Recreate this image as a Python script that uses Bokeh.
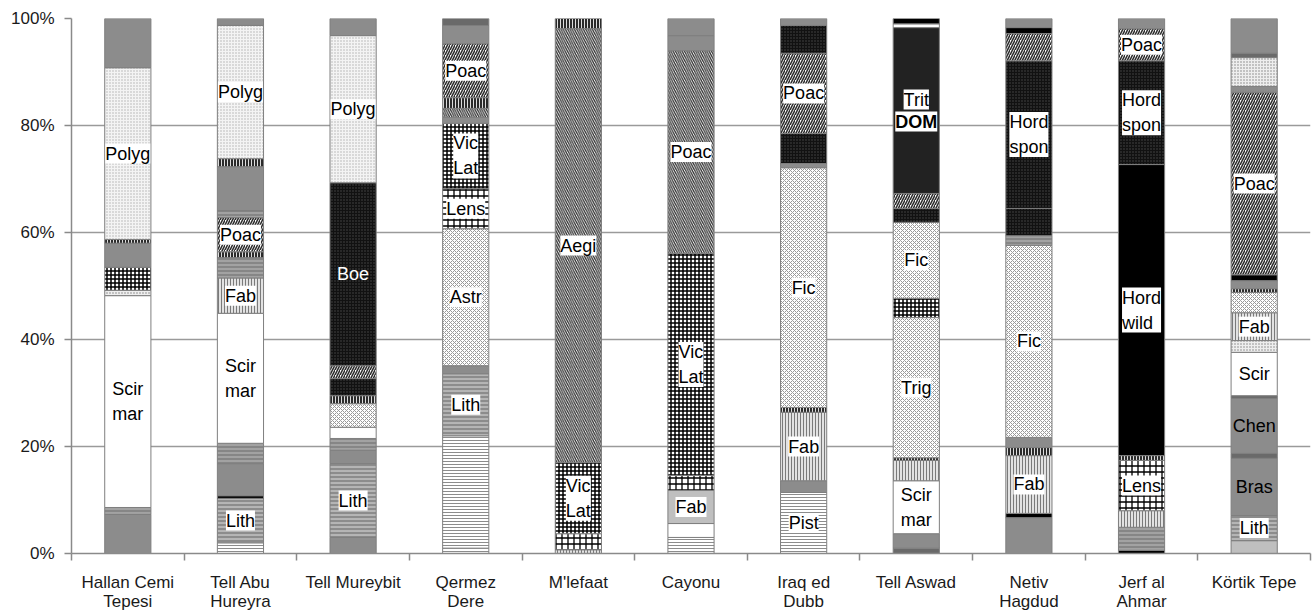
from bokeh.plotting import figure
from bokeh.models import ColumnDataSource, LabelSet, FixedTicker, Range1d
from bokeh.core.properties import value
from bokeh.embed import file_html
from bokeh.resources import INLINE

# ---------------- data ----------------
sites = ["Hallan Cemi\nTepesi", "Tell Abu\nHureyra", "Tell Mureybit", "Qermez\nDere",
         "M'lefaat", "Cayonu", "Iraq ed\nDubb", "Tell Aswad", "Netiv\nHagdud",
         "Jerf al\nAhmar", "Körtik Tepe"]

y_ticks = [0, 20, 40, 60, 80, 100]
y_tick_labels = ["0%", "20%", "40%", "60%", "80%", "100%"]

# segment sizes (%) from bottom to top, their taxon group, and label
hallan_vals = [7.3, 1.3, 39.6, 1.0, 4.3, 4.5, 0.7, 32.1, 9.2]
hallan_kinds = ["gray", "ghstripe", "white", "lightdot", "checkblack", "gray", "dotline", "polyg", "gray"]
hallan_labels = ["", "", "Scir mar", "", "", "", "", "Polyg", ""]

abu_vals = [2.0, 8.3, 0.5, 6.0, 3.8, 24.3, 6.6, 3.8, 1.1, 6.4, 1.3, 8.2, 1.5, 24.9, 1.3]
abu_kinds = ["hstripe", "lith", "black", "gray", "ghstripe", "white", "fab", "ghstripe", "dotline",
             "poac", "ghstripe", "gray", "dotline", "polyg", "gray"]
abu_labels = ["", "Lith", "", "", "", "Scir mar", "Fab", "", "", "Poac", "", "", "", "Polyg", ""]

mureybit_vals = [3.0, 13.8, 2.5, 2.2, 2.1, 4.4, 1.5, 3.2, 2.4, 34.2, 27.5, 3.2]
mureybit_kinds = ["gray", "lith", "gray", "ghstripe", "white", "lightcheck", "dotline", "blackdot",
                  "poac", "blackdot", "polyg", "gray"]
mureybit_labels = ["", "Lith", "", "", "", "", "", "", "", "Boe", "Polyg", ""]

qermez_vals = [1.0, 21.0, 11.6, 1.5, 25.6, 7.5, 12.2, 1.1, 1.7, 2.0, 10.1, 3.4, 1.3]
qermez_kinds = ["hstripe", "hstripe", "lith", "gray", "lightcheck", "lens", "checkblack", "gray",
                "aegi", "dotline", "poac", "gray", "dgray"]
qermez_labels = ["", "", "Lith", "", "Astr", "Lens", "Vic Lat", "", "", "", "Poac", "", ""]

mlefaat_vals = [0.7, 3.0, 13.3, 81.1, 1.9]
mlefaat_kinds = ["fab", "lens", "checkblack", "aegi", "dotline"]
mlefaat_labels = ["", "", "Vic Lat", "Aegi", ""]

cayonu_vals = [3.0, 2.6, 6.2, 2.8, 41.5, 37.9, 2.8, 3.2]
cayonu_kinds = ["hstripe", "white", "lgray", "lens", "checkblack", "aegi", "gray", "gray"]
cayonu_labels = ["", "", "Fab", "", "Vic Lat", "Poac", "", ""]

iraq_vals = [11.4, 2.2, 12.8, 0.9, 44.8, 0.8, 5.6, 15.0, 5.2, 1.3]
iraq_kinds = ["hstripe", "gray", "fab", "dotline", "lightcheck", "gray", "blackdot", "poac", "blackdot", "gray"]
iraq_labels = ["Pist", "", "Fab", "", "Fic", "", "", "Poac", "", ""]

aswad_vals = [1.0, 2.7, 9.9, 3.8, 0.5, 26.2, 3.6, 14.2, 2.6, 2.8, 31.0, 0.7, 1.0]
aswad_kinds = ["dgray", "gray", "white", "fab", "dotline", "lightcheck", "checkblack", "lightcheck",
               "blackdot", "poac", "dark", "white", "black"]
aswad_labels = ["", "", "Scir mar", "", "", "Trig", "", "Fic", "", "", "Trit DOM", "", ""]

netiv_vals = [6.7, 0.8, 10.8, 1.5, 1.9, 35.9, 1.8, 5.1, 27.6, 5.1, 1.1, 1.7]
netiv_kinds = ["gray", "black", "fab", "dotline", "gray", "lightcheck", "ghstripe", "blackdot",
               "blackdot", "poac", "black", "gray"]
netiv_labels = ["", "", "Fab", "", "", "Fic", "", "", "Hord spon", "", "", ""]

jerf_vals = [0.6, 4.3, 3.1, 9.4, 0.9, 54.4, 19.4, 6.0, 1.9]
jerf_kinds = ["black", "ghstripe", "fab", "lens", "dotline", "black", "blackdot", "poac", "gray"]
jerf_labels = ["", "", "", "Lens", "", "Hord wild", "Hord spon", "Poac", ""]

kortik_vals = [2.4, 4.7, 10.7, 0.9, 10.3, 0.5, 8.1, 2.2, 5.2, 3.8, 0.7, 1.5, 1.1, 34.1, 1.1, 5.4, 0.8, 6.5]
kortik_kinds = ["lgray", "lith", "gray", "dgray", "gray", "dgray", "white", "lightdot", "fab",
                "lightcheck", "dotline", "gray", "black", "poac", "gray", "lightdot", "dgray", "gray"]
kortik_labels = ["", "Lith", "Bras", "", "Chen", "", "Scir", "", "Fab", "", "", "", "", "Poac", "", "", "", ""]

bars = [
    (hallan_vals, hallan_kinds, hallan_labels),
    (abu_vals, abu_kinds, abu_labels),
    (mureybit_vals, mureybit_kinds, mureybit_labels),
    (qermez_vals, qermez_kinds, qermez_labels),
    (mlefaat_vals, mlefaat_kinds, mlefaat_labels),
    (cayonu_vals, cayonu_kinds, cayonu_labels),
    (iraq_vals, iraq_kinds, iraq_labels),
    (aswad_vals, aswad_kinds, aswad_labels),
    (netiv_vals, netiv_kinds, netiv_labels),
    (jerf_vals, jerf_kinds, jerf_labels),
    (kortik_vals, kortik_kinds, kortik_labels),
]

# ---------------- styles ----------------
STYLE = {
    "gray":       ("#8c8c8c", " ", "#8c8c8c", 4, 1),
    "dgray":      ("#6a6a6a", " ", "#6a6a6a", 4, 1),
    "lgray":      ("#bfbfbf", " ", "#bfbfbf", 4, 1),
    "white":      ("#ffffff", " ", "#ffffff", 4, 1),
    "black":      ("#000000", " ", "#000000", 4, 1),
    "dark":       ("#222222", " ", "#222222", 4, 1),
    "blackdot":   ("#111111", ".", "#4a4a4a", 3, 1),
    "dotline":    ("#2a2a2a", "|", "#dddddd", 3, 1),
    "polyg":      ("#f4f4f4", ".", "#b0b0b0", 3, 1),
    "lightdot":   ("#eeeeee", ".", "#808080", 3, 1),
    "lightcheck": ("#ffffff", "x", "#999999", 4, 1),
    "checkblack": ("#ffffff", "+", "#000000", 4, 1.5),
    "lens":       ("#ffffff", "+", "#000000", 6, 1.3),
    "lith":       ("#8c8c8c", "-", "#dddddd", 4, 1),
    "hstripe":    ("#ffffff", "-", "#8c8c8c", 3, 1),
    "ghstripe":   ("#a2a2a2", "-", "#6a6a6a", 4, 1),
    "fab":        ("#e2e2e2", "|", "#7a7a7a", 3, 1),
    "poac":       ("#ffffff", "/", "#2e2e2e", 5, 1.6),
    "aegi":       ("#ffffff", "\\", "#2e2e2e", 4.5, 1.25),
}
PLAIN = {"Bras", "Chen"}
INVERSE = {"Boe"}

FONT = "Liberation Sans"

seg = dict(x=[], bottom=[], top=[], fill=[], hp=[], hc=[], hs=[], hw=[])
boxed = dict(x=[], y=[], text=[], yoff=[], fstyle=[])
plain = dict(x=[], y=[], text=[], color=[])

for i, (vals, kinds, labels) in enumerate(bars):
    base = 0.0
    for v, k, lab in zip(vals, kinds, labels):
        f, hp, hc, hs, hw = STYLE[k]
        seg["x"].append(i); seg["bottom"].append(base); seg["top"].append(base + v)
        seg["fill"].append(f); seg["hp"].append(hp); seg["hc"].append(hc)
        seg["hs"].append(hs); seg["hw"].append(hw)
        mid = base + v / 2
        if lab:
            if lab in PLAIN or lab in INVERSE:
                plain["x"].append(i); plain["y"].append(mid); plain["text"].append(lab)
                plain["color"].append("white" if lab in INVERSE else "black")
            elif lab == "Trit DOM":
                for t, off, st in (("Trit", 11, "normal"), ("DOM", -11, "bold")):
                    boxed["x"].append(i); boxed["y"].append(mid); boxed["text"].append(t)
                    boxed["yoff"].append(off); boxed["fstyle"].append(st)
            else:
                boxed["x"].append(i); boxed["y"].append(mid)
                boxed["text"].append(lab.replace(" ", "\n"))
                boxed["yoff"].append(0); boxed["fstyle"].append("normal")
        base += v

p = figure(width=1314, height=614, output_backend="svg", toolbar_location=None,
           x_range=Range1d(-0.5, len(sites) - 0.5), y_range=Range1d(0, 100),
           min_border_left=71, min_border_right=4, min_border_top=18, min_border_bottom=61)
p.outline_line_color = None
p.background_fill_color = "white"
p.xgrid.visible = False
p.ygrid.ticker = FixedTicker(ticks=y_ticks)
p.ygrid.grid_line_color = "#9a9a9a"
p.ygrid.grid_line_width = 1.5

p.vbar(x="x", bottom="bottom", top="top", width=0.41, source=ColumnDataSource(seg),
       fill_color="fill", hatch_pattern="hp", hatch_color="hc", hatch_scale="hs",
       hatch_weight="hw", line_color="#7f7f7f", line_width=1)

p.add_layout(LabelSet(x="x", y="y", text="text", y_offset="yoff", source=ColumnDataSource(boxed),
                      text_align="center", text_baseline="middle", text_font=value(FONT),
                      text_font_size=value("18px"), text_font_style="fstyle", text_color="black",
                      text_line_height=1.25, background_fill_color="white"))
p.add_layout(LabelSet(x="x", y="y", text="text", source=ColumnDataSource(plain),
                      text_align="center", text_baseline="middle", text_font=value(FONT),
                      text_font_size=value("18px"), text_color="color"))

# axes
p.yaxis.ticker = FixedTicker(ticks=y_ticks)
p.yaxis.major_label_overrides = dict(zip(y_ticks, y_tick_labels))
p.yaxis.minor_tick_line_color = None
p.yaxis.major_tick_out = 7
p.yaxis.major_tick_in = 0
p.yaxis.major_label_standoff = 10
p.yaxis.axis_line_color = "#8a8a8a"
p.yaxis.axis_line_width = 1.5
p.yaxis.major_tick_line_color = "#8a8a8a"
p.yaxis.major_tick_line_width = 1.5
p.yaxis.major_label_text_font = FONT
p.yaxis.major_label_text_font_size = "17px"
p.yaxis.major_label_text_color = "#1a1a1a"

p.xaxis.ticker = FixedTicker(ticks=list(range(len(sites))),
                             minor_ticks=[i - 0.5 for i in range(len(sites) + 1)])
p.xaxis.major_label_overrides = {i: s for i, s in enumerate(sites)}
p.xaxis.major_tick_out = 0
p.xaxis.major_tick_in = 0
p.xaxis.minor_tick_out = 7
p.xaxis.minor_tick_in = 0
p.xaxis.minor_tick_line_color = "#8a8a8a"
p.xaxis.minor_tick_line_width = 1.5
p.xaxis.axis_line_color = "#8a8a8a"
p.xaxis.axis_line_width = 1.5
p.xaxis.major_label_standoff = 12
p.xaxis.major_label_text_line_height = 1.05
p.xaxis.major_label_text_font = FONT
p.xaxis.major_label_text_font_size = "17px"
p.xaxis.major_label_text_color = "#1a1a1a"

open("out.html", "w").write(file_html(p, INLINE))
